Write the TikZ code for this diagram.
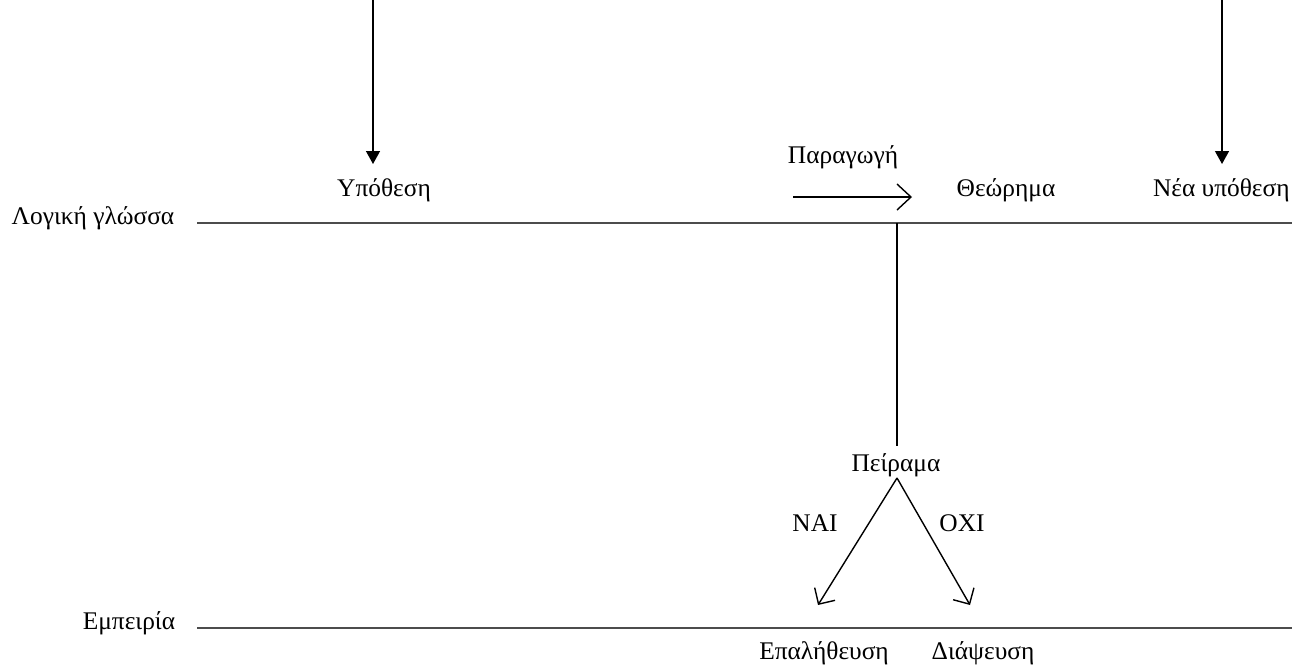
\documentclass[tikz,border=0pt]{standalone}
\usepackage{fontspec}
\setmainfont{Liberation Serif}
\usetikzlibrary{positioning,arrows.meta}

\begin{document}
\begin{tikzpicture}[x=0.5pt,y=-0.5pt,font=\fontsize{12.7}{14}\selectfont]
		\tikzstyle{every node}+=[inner sep=0pt]
		\tikzstyle{level}=[draw=black!70,line width=1.1pt]
		\tikzstyle{given}=[-{Triangle[length=6.5pt,width=7pt]},line width=0.7pt]
		\tikzstyle{barb}=[-{Straight Barb[length=7pt,width=13pt]},line width=0.7pt]
		\tikzstyle{branch}=[-{Straight Barb[length=6pt,width=12pt]},line width=0.7pt]
		\useasboundingbox (0,0) rectangle (1294,664);
		% the two levels
		\node (logic) at (93,218) {Λογική γλώσσα};
		\node (exper) at (129,623) {Εμπειρία};
		\coordinate (l0) at (197,223);
		\coordinate (l1) at (1292,223);
		\coordinate (e0) at (197,628);
		\coordinate (e1) at (1292,628);
		\draw [level] (l0) -- (l1);
		\draw [level] (e0) -- (e1);
		% hypotheses coming in from above
		\node (hyp) at (384,190) {Υπόθεση};
		\node [anchor=east] (newhyp) at (1290,190) {Νέα υπόθεση};
		\coordinate (hyptop) at (373,0);
		\coordinate (newtop) at (1222,0);
		\draw [given] (hyptop) -- (373,164);
		\draw [given] (newtop) -- (1222,164);
		% deduction
		\node (deduct) at (843,157) {Παραγωγή};
		\node (theorem) at (1006,190) {Θεώρημα};
		\coordinate (d0) at (793,197);
		\coordinate (d1) at (912,197);
		\draw [barb] (d0) -- (d1);
		% experiment
		\node (exp) at (896,465) {Πείραμα};
		\coordinate (split) at (897,223);
		\draw [line width=0.7pt] (split) -- (897,446);
		\coordinate (apex) at (897,478);
		\coordinate (yes) at (818,605);
		\coordinate (no) at (970,605);
		\draw [branch] (apex) -- (yes);
		\draw [branch] (apex) -- (no);
		\node (nai) at (815,523) {ΝΑΙ};
		\node (oxi) at (962,523) {ΟΧΙ};
		\node (verif) at (824,653) {Επαλήθευση};
		\node (falsif) at (983,653) {Διάψευση};
\end{tikzpicture}
\end{document}
